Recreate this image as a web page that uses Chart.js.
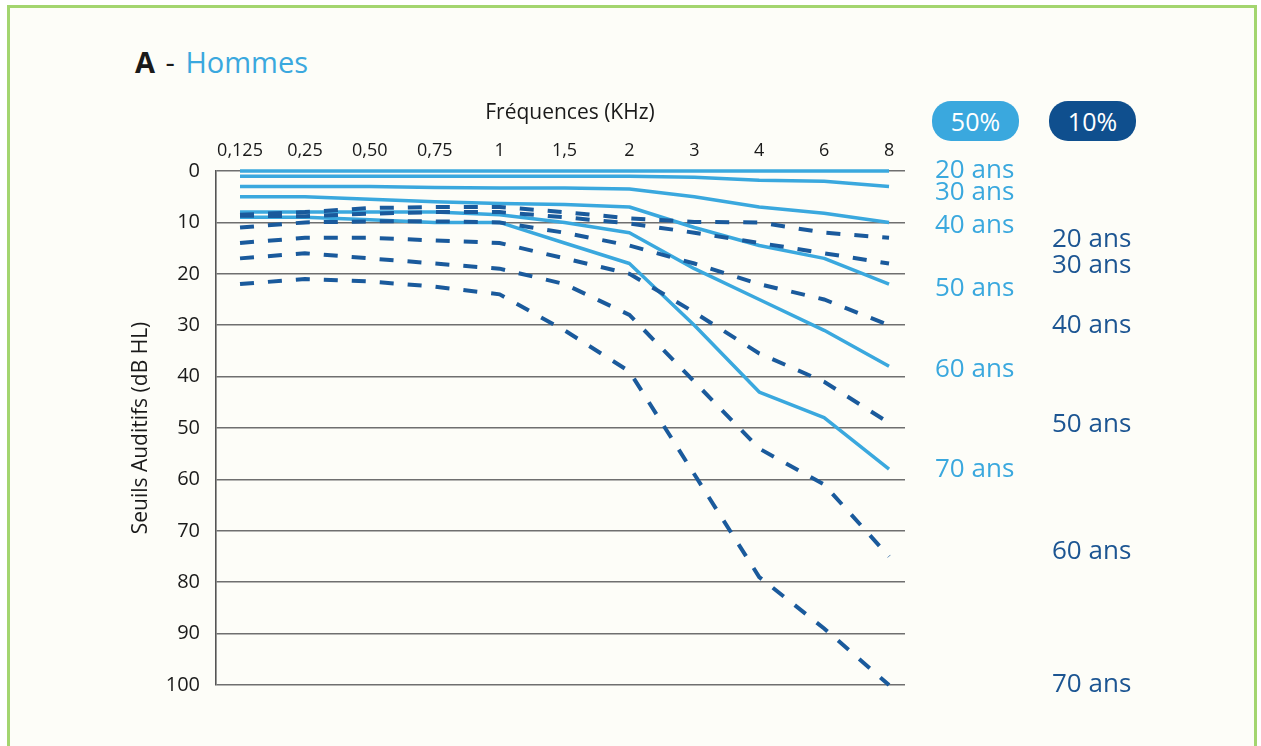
<!DOCTYPE html>
<html>
<head>
<meta charset="utf-8">
<script src="https://cdn.jsdelivr.net/npm/chart.js@4/dist/chart.umd.min.js"></script>
<style>
html,body{margin:0;padding:0;background:#ffffff;width:1261px;height:746px;overflow:hidden;font-family:"Open Sans",sans-serif}
#frame{position:absolute;left:7px;top:5px;width:1250px;height:780px;border:3px solid #a3d56f;background:#fdfdf8;box-sizing:border-box}
#title{position:absolute;left:135px;top:47px;font-size:29px;line-height:29px;white-space:nowrap;color:#1a1a1a}
#title b{font-weight:700}
#title .dash{margin:0 3px}
#title .blue{color:#3aa8de}
.badge{position:absolute;top:101px;height:40px;width:87px;border-radius:19px;color:#fff;font-size:25px;line-height:40px;text-align:center}
#b50{left:932px;background:#3aa8de}
#b10{left:1049px;background:#0f4f8e}
#wrap{position:absolute;left:0;top:0;width:1261px;height:746px}
</style>
</head>
<body>
<div id="frame"></div>
<div id="title"><b>A</b><span class="dash"> - </span><span class="blue">Hommes</span></div>
<div class="badge" id="b50">50%</div>
<div class="badge" id="b10">10%</div>
<div id="wrap"><canvas id="c"></canvas></div>
<script>
// ---- data ----
const freqLabels = ['0,125','0,25','0,50','0,75','1','1,5','2','3','4','6','8'];
const ageLabels = ['20 ans','30 ans','40 ans','50 ans','60 ans','70 ans'];
const yTickValues = [0,10,20,30,40,50,60,70,80,90,100];

// 50 % (median) thresholds, dB HL
const median20 = [0,0,0,0,0,0,0,0,0,0,0];
const median30 = [1,1,1,1,1,1,1,1.2,1.8,2,3];
const median40 = [3,3,3,3.2,3.3,3.3,3.5,5,7,8.2,10];
const median50 = [5,5,5.5,6,6.3,6.5,7,11,14.5,17,22];
const median60 = [8,8,8,8,8.5,10,12,19,25,31,38];
const median70 = [9,9,9.5,10,10,14,18,30,43,48,58];

// 10 % thresholds, dB HL
const decile20 = [8.5,8,7.2,7,7,8,9.2,9.9,10,12,13];
const decile30 = [8.7,8.8,8.3,8,8,9,10.2,12,14,16,18];
const decile40 = [11,10,9.8,9.8,10,12,14.5,18,22,25,30];
const decile50 = [14,13,13,13.5,14,17,20,27.5,35.5,41,49];
const decile60 = [17,16,17,18,19,22,28,41,54,61,75];
const decile70 = [22,21,21.5,22.5,24,31,39,59,79,89,100];

const medianSeries = [median20, median30, median40, median50, median60, median70];
const decileSeries = [decile20, decile30, decile40, decile50, decile60, decile70];

// ---- styles ----
const LIGHT = '#3aa8de';
const DARK = '#1a5a9c';
const DARK_TEXT = '#1c5592';
const medianLabelNudge = [-2.5, 5, 2, 2.5, 2, -1];
const decileLabelNudge = [0, 0, -1, 0, -7, -2];

const toPoints = arr => arr.map((v, i) => ({x: i, y: v}));

const datasets = [];
decileSeries.forEach((s, k) => datasets.push({
  label: '10% ' + ageLabels[k], data: toPoints(s), group: '10', idx: k,
  borderColor: DARK, borderWidth: 4, borderDash: [14, 14], borderCapStyle: 'butt',
  pointRadius: 0, tension: 0, fill: false, clip: false
}));
medianSeries.forEach((s, k) => datasets.push({
  label: '50% ' + ageLabels[k], data: toPoints(s), group: '50', idx: k,
  borderColor: LIGHT, borderWidth: 3.5, borderJoinStyle: 'round',
  pointRadius: 0, tension: 0, fill: false, clip: false
}));

const extraText = {
  id: 'extraText',
  afterDatasetsDraw(chart) {
    const {ctx, scales: {y}} = chart;
    ctx.save();
    ctx.textAlign = 'left';
    ctx.textBaseline = 'alphabetic';
    ctx.font = '26px "Open Sans"';
    chart.data.datasets.forEach(ds => {
      const last = ds.data[ds.data.length - 1].y;
      const py = y.getPixelForValue(last);
      if (ds.group === '50') {
        ctx.fillStyle = LIGHT;
        ctx.fillText(ageLabels[ds.idx], 935, py + 9 + medianLabelNudge[ds.idx]);
      } else {
        ctx.fillStyle = DARK_TEXT;
        ctx.fillText(ageLabels[ds.idx], 1052, py + 9 + decileLabelNudge[ds.idx]);
      }
    });
    ctx.fillStyle = '#1a1a1a';
    ctx.font = '21px "Open Sans"';
    ctx.textAlign = 'center';
    ctx.textBaseline = 'middle';
    ctx.fillText('Fréquences (KHz)', 570, 113);
    ctx.restore();
  }
};

new Chart(document.getElementById('c'), {
  type: 'line',
  data: {datasets},
  options: {
    responsive: true,
    maintainAspectRatio: false,
    devicePixelRatio: 1,
    animation: false,
    layout: {padding: {left: 0, top: 0, right: 356, bottom: 61}},
    plugins: {legend: {display: false}, tooltip: {enabled: false}},
    scales: {
      x: {
        type: 'linear', position: 'top', min: -0.37, max: 10.246,
        afterBuildTicks: sc => { sc.ticks = freqLabels.map((_, i) => ({value: i})); },
        afterFit: sc => { sc.height = 171; },
        grid: {display: false, drawTicks: false},
        border: {display: false},
        ticks: {
          autoSkip: false, maxRotation: 0, padding: 9, color: '#1a1a1a',
          font: {family: '"Open Sans"', size: 18},
          callback: v => freqLabels[v]
        }
      },
      y: {
        type: 'linear', position: 'left', reverse: true, min: 0, max: 100,
        afterBuildTicks: sc => { sc.ticks = yTickValues.map(v => ({value: v})); },
        afterFit: sc => { sc.width = 216; },
        grid: {color: '#6f6f6f', lineWidth: 1.6, drawTicks: false},
        border: {display: true, color: '#555555', width: 1.6},
        ticks: {padding: 16, color: '#1a1a1a', font: {family: '"Open Sans"', size: 20}},
        title: {
          display: true, text: 'Seuils Auditifs (dB HL)', color: '#1a1a1a',
          font: {family: '"Open Sans"', size: 21}, padding: {top: 128}
        }
      }
    }
  },
  plugins: [extraText]
});
</script>
</body>
</html>
